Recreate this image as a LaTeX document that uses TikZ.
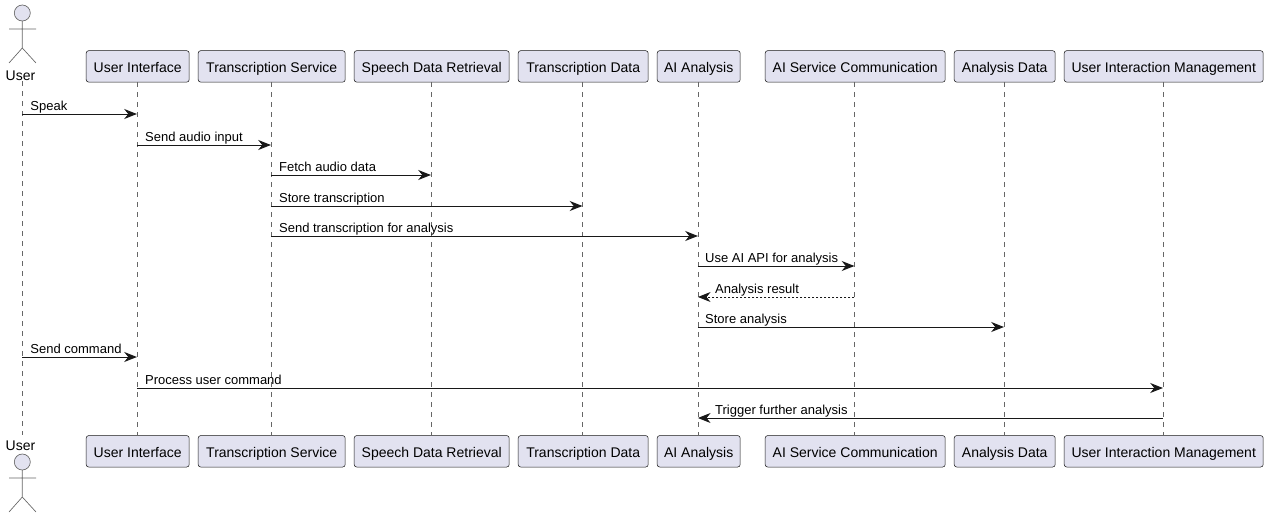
\documentclass[tikz,border=0pt]{standalone}
\usepackage{fontspec}
\setmainfont{Liberation Sans}
\usetikzlibrary{arrows.meta,positioning}
\definecolor{boxfill}{HTML}{E2E2F0}
\definecolor{linedark}{HTML}{181818}
\definecolor{lifegray}{HTML}{666666}

\begin{document}
\begin{tikzpicture}[x=0.75pt, y=-0.75pt,
    box/.style={draw=linedark, line width=0.4pt, fill=boxfill, rounded corners=1.9pt,
      minimum height=23.6pt, inner sep=0pt, text height=9.5pt, text depth=0.5pt,
      font=\fontsize{10.5}{12}\selectfont},
    actorname/.style={inner sep=0pt, font=\fontsize{10.5}{12}\selectfont},
    endpoint/.style={inner sep=0pt, minimum size=0pt},
    stick/.style={draw=lifegray, line width=0.5pt},
    lifeline/.style={draw=lifegray, line width=0.4pt, dash pattern=on 3.75pt off 3.75pt},
    msg/.style={draw=linedark, line width=0.75pt, -{Stealth[length=9.5pt, width=7.5pt, inset=3pt]}},
    reply/.style={msg, dash pattern=on 1.5pt off 1.5pt},
    msglabel/.style={anchor=base west, inner sep=0pt, font=\fontsize{9.75}{12}\selectfont}]

\useasboundingbox (0,0) rectangle (1267,517);

% The participants, at the top and again at the bottom
\foreach \who/\cx/\boxw/\txt in {ui/137.7/103/User Interface, ts/271.7/147/Transcription Service,
    sd/431.7/155/Speech Data Retrieval, td/583.2/130/Transcription Data, ai/698.7/83/AI Analysis,
    as/855.2/180/AI Service Communication, ad/1004.7/101/Analysis Data,
    um/1163.7/199/User Interaction Management} {
  \node[box, minimum width=\boxw*0.75pt] (\who)  at (\cx, 66.4)  {\txt};
  \node[box, minimum width=\boxw*0.75pt] (\who b) at (\cx, 451.3) {\txt};
}

% The actor, drawn twice
\node[actorname] (username)  at (20.5, 75.5)  {User};
\node[actorname] (usernameb) at (20.5, 445.5) {User};
\node[endpoint] (user)  at (23, 81) {};
\node[endpoint] (userb) at (23, 435) {};
\foreach \ytop in {0, 449} {
  \draw[stick, fill=boxfill] (22.3, \ytop+13) circle (6pt);
  \draw[stick] (22.3, \ytop+21) -- (22.3, \ytop+48) (9, \ytop+29) -- (36, \ytop+29)
    (9, \ytop+63) -- (22.3, \ytop+48) -- (36, \ytop+63);
}

% Dashed lines down from each participant
\foreach \who in {user, ui, ts, sd, td, ai, as, ad, um} {
  \draw[lifeline] ([xshift=-0.6pt]\who.south) -- ([xshift=-0.6pt]\who b.north);
}

% Messages: from / to / height / style / text side / text offset / text
\foreach \src/\dst/\y/\kind/\side/\pad/\txt in {
    user/ui/114/msg/user/6pt/Speak,
    ui/ts/145/msg/ui/6pt/Send audio input,
    ts/sd/175/msg/ts/6pt/Fetch audio data,
    ts/td/206/msg/ts/6pt/Store transcription,
    ts/ai/236/msg/ts/6pt/Send transcription for analysis,
    ai/as/266/msg/ai/5.25pt/Use AI API for analysis,
    as/ai/297/reply/ai/12.75pt/Analysis result,
    ai/ad/327/msg/ai/5.25pt/Store analysis,
    user/ui/357/msg/user/6pt/Send command,
    ui/um/388/msg/ui/6pt/Process user command,
    um/ai/418/msg/ai/12.75pt/Trigger further analysis} {
  \draw[\kind] ([xshift=-0.6pt]\src.south |- 0,\y) -- ([xshift=-0.6pt]\dst.south |- 0,\y);
  \node[msglabel, xshift=\pad] (note\y) at ([xshift=-0.6pt]\side.south |- 0,\y-4) {\txt};
}

\end{tikzpicture}
\end{document}
